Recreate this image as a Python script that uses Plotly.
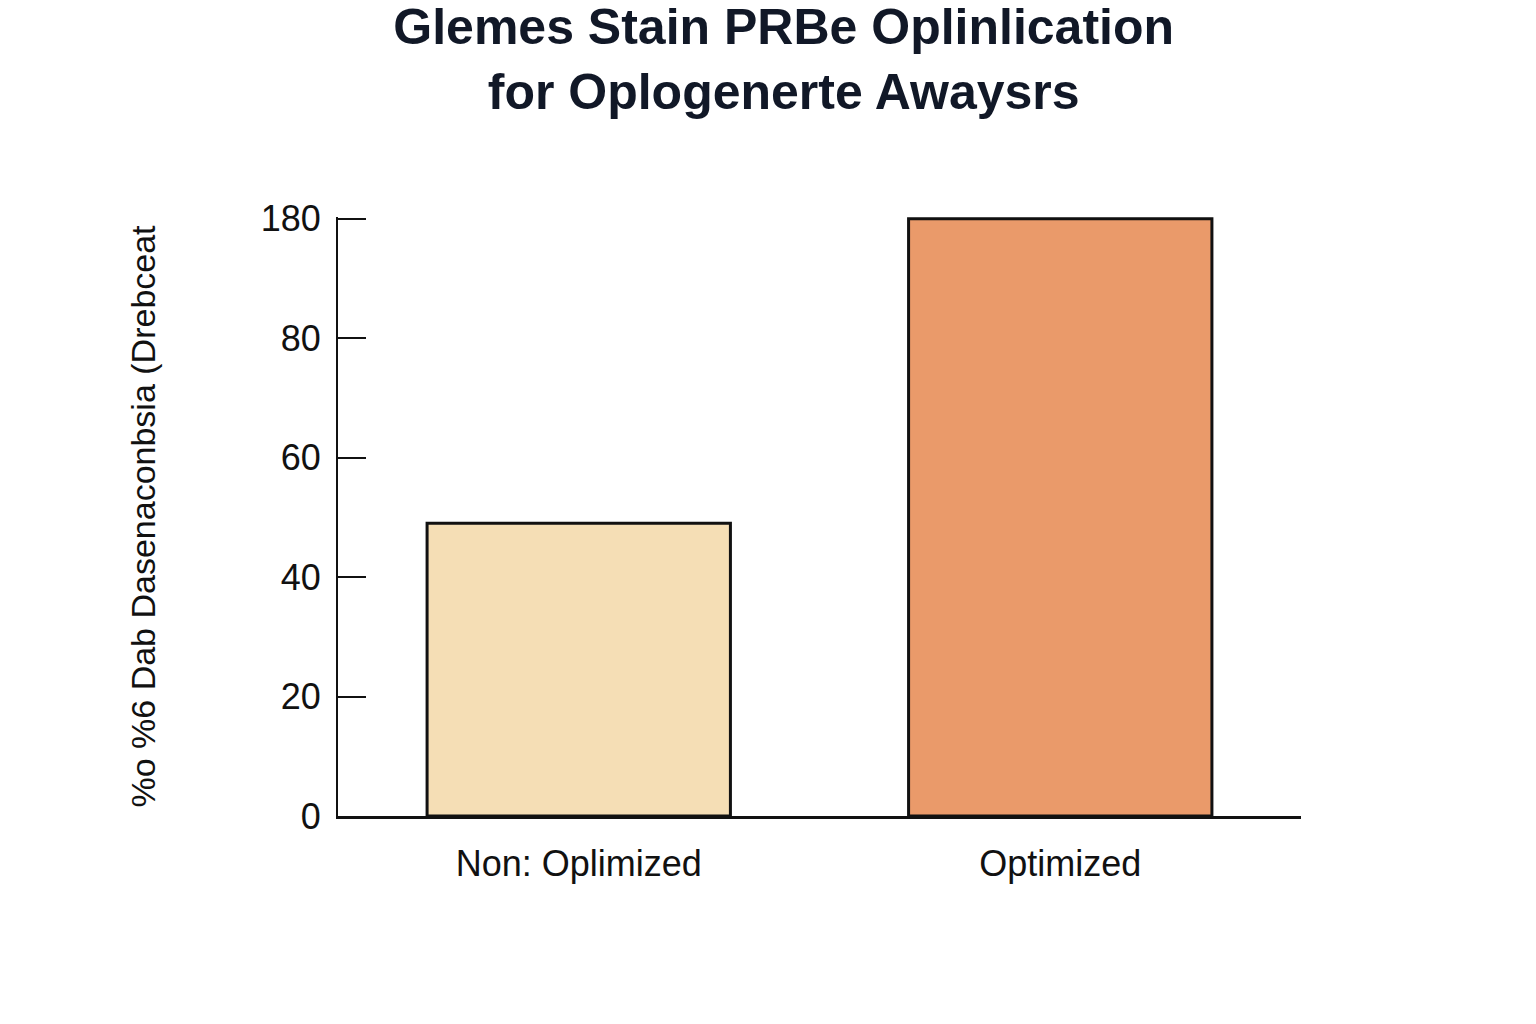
import plotly.graph_objects as go

categories = ["Non: Oplimized", "Optimized"]
values = [49, 100]
colors = ["#F5DEB5", "#EA9A6A"]
tick_vals = [0, 20, 40, 60, 80, 100]
tick_text = ["0", "20", "40", "60", "80", "180"]

fig = go.Figure(go.Bar(
    x=categories, y=values,
    marker=dict(color=colors, line=dict(color="#111111", width=3)),
))
fig.update_layout(
    width=1536, height=1024,
    paper_bgcolor="white", plot_bgcolor="white",
    margin=dict(l=330, r=243, t=209, b=216),
    bargap=0.37,
    font=dict(family="Liberation Sans, Arial, sans-serif", color="#111111"),
    title=dict(
        text="<b>Glemes Stain PRBe Oplinlication<br>for Oplogenerte Awaysrs</b>",
        x=0.505, xanchor="center", y=0.965, yanchor="top",
        font=dict(size=50, color="#111827", family="Liberation Sans, Arial, sans-serif"),
    ),
    showlegend=False,
)
fig.update_xaxes(
    showline=True, linecolor="#111111", linewidth=3,
    tickfont=dict(size=36), ticks="", showgrid=False, ticklabelstandoff=14,
)
fig.update_yaxes(
    range=[0, 100.3], tickvals=tick_vals, ticktext=tick_text,
    showline=True, linecolor="#111111", linewidth=2,
    ticks="inside", ticklen=28, tickwidth=2, tickcolor="#111111",
    tickfont=dict(size=36), showgrid=False, zeroline=False, ticklabelstandoff=8,
    title=dict(text="%o %6 Dab Dasenaconbsia (Drebceat", font=dict(size=34), standoff=95),
)
fig.write_html("out.html")
